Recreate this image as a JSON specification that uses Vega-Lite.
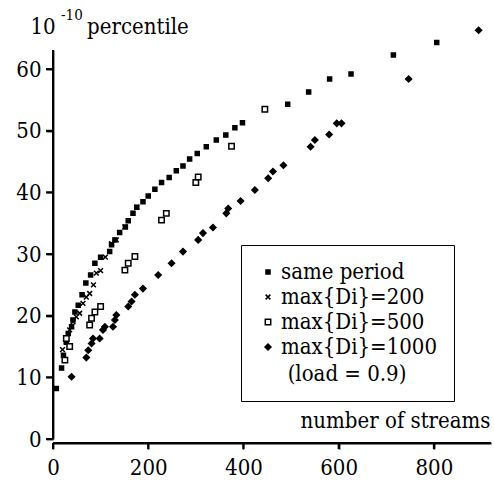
{
  "$schema": "https://vega.github.io/schema/vega-lite/v6.json",
  "autosize": {"type": "none"},
  "padding": {"left": 53, "top": 50, "right": 3, "bottom": 44},
  "width": 438,
  "height": 389,
  "background": "white",
  "config": {
    "view": {"stroke": null},
    "font": "DejaVu Serif Condensed",
    "legend": {"labelFont": "DejaVu Serif Condensed", "titleFont": "DejaVu Serif Condensed"}
  },
  "title": {"text": "-10", "fontSize": 15, "font": "DejaVu Serif Condensed", "fontWeight": "normal", "anchor": "start", "frame": "group", "color": "black", "offset": 0, "dx": 8, "dy": 8},
  "data": {"values": [
    {"s": "same period", "x": 7, "y": 8.2},
    {"s": "same period", "x": 18, "y": 11.5},
    {"s": "same period", "x": 22, "y": 13.6},
    {"s": "same period", "x": 28, "y": 15.7},
    {"s": "same period", "x": 32, "y": 17.1},
    {"s": "same period", "x": 39, "y": 18.2},
    {"s": "same period", "x": 42, "y": 19.3},
    {"s": "same period", "x": 46, "y": 20.6},
    {"s": "same period", "x": 53, "y": 21.7},
    {"s": "same period", "x": 61, "y": 23.4},
    {"s": "same period", "x": 69, "y": 25.3},
    {"s": "same period", "x": 79, "y": 26.6},
    {"s": "same period", "x": 88, "y": 28.5},
    {"s": "same period", "x": 100, "y": 29.5},
    {"s": "same period", "x": 119, "y": 30.4},
    {"s": "same period", "x": 123, "y": 31.5},
    {"s": "same period", "x": 130, "y": 32.3},
    {"s": "same period", "x": 140, "y": 33.5},
    {"s": "same period", "x": 152, "y": 34.4},
    {"s": "same period", "x": 158, "y": 35.4},
    {"s": "same period", "x": 168, "y": 36.6},
    {"s": "same period", "x": 176, "y": 37.6},
    {"s": "same period", "x": 189, "y": 38.5},
    {"s": "same period", "x": 200, "y": 39.4},
    {"s": "same period", "x": 214, "y": 40.5},
    {"s": "same period", "x": 228, "y": 41.6},
    {"s": "same period", "x": 244, "y": 42.4},
    {"s": "same period", "x": 259, "y": 43.5},
    {"s": "same period", "x": 273, "y": 44.3},
    {"s": "same period", "x": 287, "y": 45.4},
    {"s": "same period", "x": 303, "y": 46.3},
    {"s": "same period", "x": 322, "y": 47.4},
    {"s": "same period", "x": 343, "y": 48.5},
    {"s": "same period", "x": 363, "y": 49.3},
    {"s": "same period", "x": 382, "y": 50.5},
    {"s": "same period", "x": 398, "y": 51.3},
    {"s": "same period", "x": 445, "y": 53.5},
    {"s": "same period", "x": 493, "y": 54.3},
    {"s": "same period", "x": 537, "y": 56.3},
    {"s": "same period", "x": 581, "y": 58.4},
    {"s": "same period", "x": 626, "y": 59.2},
    {"s": "same period", "x": 715, "y": 62.3},
    {"s": "same period", "x": 806, "y": 64.3},
    {"s": "max{Di}=200", "x": 20, "y": 14.5},
    {"s": "max{Di}=200", "x": 28, "y": 15.8},
    {"s": "max{Di}=200", "x": 35, "y": 17.7},
    {"s": "max{Di}=200", "x": 42, "y": 19},
    {"s": "max{Di}=200", "x": 49, "y": 19.8},
    {"s": "max{Di}=200", "x": 56, "y": 20.4},
    {"s": "max{Di}=200", "x": 63, "y": 22},
    {"s": "max{Di}=200", "x": 70, "y": 23},
    {"s": "max{Di}=200", "x": 77, "y": 23.6},
    {"s": "max{Di}=200", "x": 85, "y": 25},
    {"s": "max{Di}=200", "x": 91, "y": 26.9},
    {"s": "max{Di}=200", "x": 100, "y": 27.3},
    {"s": "max{Di}=200", "x": 110, "y": 29.5},
    {"s": "max{Di}=200", "x": 123, "y": 31.7},
    {"s": "max{Di}=200", "x": 133, "y": 32.3},
    {"s": "max{Di}=200", "x": 151, "y": 34.4},
    {"s": "max{Di}=200", "x": 176, "y": 37.6},
    {"s": "max{Di}=500", "x": 25, "y": 12.8},
    {"s": "max{Di}=500", "x": 28, "y": 16.3},
    {"s": "max{Di}=500", "x": 35, "y": 15},
    {"s": "max{Di}=500", "x": 77, "y": 18.5},
    {"s": "max{Di}=500", "x": 81, "y": 19.6},
    {"s": "max{Di}=500", "x": 88, "y": 20.6},
    {"s": "max{Di}=500", "x": 100, "y": 21.5},
    {"s": "max{Di}=500", "x": 151, "y": 27.4},
    {"s": "max{Di}=500", "x": 158, "y": 28.5},
    {"s": "max{Di}=500", "x": 172, "y": 29.6},
    {"s": "max{Di}=500", "x": 228, "y": 35.5},
    {"s": "max{Di}=500", "x": 238, "y": 36.6},
    {"s": "max{Di}=500", "x": 300, "y": 41.6},
    {"s": "max{Di}=500", "x": 305, "y": 42.5},
    {"s": "max{Di}=500", "x": 375, "y": 47.5},
    {"s": "max{Di}=500", "x": 445, "y": 53.5},
    {"s": "max{Di}=1000", "x": 39, "y": 10.1},
    {"s": "max{Di}=1000", "x": 70, "y": 13.2},
    {"s": "max{Di}=1000", "x": 74, "y": 14.4},
    {"s": "max{Di}=1000", "x": 81, "y": 15.5},
    {"s": "max{Di}=1000", "x": 84, "y": 16.3},
    {"s": "max{Di}=1000", "x": 98, "y": 16.3},
    {"s": "max{Di}=1000", "x": 105, "y": 17.7},
    {"s": "max{Di}=1000", "x": 109, "y": 18.2},
    {"s": "max{Di}=1000", "x": 126, "y": 18.2},
    {"s": "max{Di}=1000", "x": 130, "y": 19.3},
    {"s": "max{Di}=1000", "x": 133, "y": 20.1},
    {"s": "max{Di}=1000", "x": 158, "y": 21.5},
    {"s": "max{Di}=1000", "x": 165, "y": 22.3},
    {"s": "max{Di}=1000", "x": 172, "y": 23.4},
    {"s": "max{Di}=1000", "x": 189, "y": 24.4},
    {"s": "max{Di}=1000", "x": 221, "y": 26.6},
    {"s": "max{Di}=1000", "x": 249, "y": 28.5},
    {"s": "max{Di}=1000", "x": 273, "y": 30.4},
    {"s": "max{Di}=1000", "x": 305, "y": 32.3},
    {"s": "max{Di}=1000", "x": 315, "y": 33.4},
    {"s": "max{Di}=1000", "x": 336, "y": 34.3},
    {"s": "max{Di}=1000", "x": 364, "y": 36.6},
    {"s": "max{Di}=1000", "x": 368, "y": 37.4},
    {"s": "max{Di}=1000", "x": 394, "y": 38.6},
    {"s": "max{Di}=1000", "x": 424, "y": 40.4},
    {"s": "max{Di}=1000", "x": 452, "y": 42.3},
    {"s": "max{Di}=1000", "x": 462, "y": 43.4},
    {"s": "max{Di}=1000", "x": 484, "y": 44.4},
    {"s": "max{Di}=1000", "x": 541, "y": 47.4},
    {"s": "max{Di}=1000", "x": 550, "y": 48.5},
    {"s": "max{Di}=1000", "x": 580, "y": 49.4},
    {"s": "max{Di}=1000", "x": 596, "y": 51.2},
    {"s": "max{Di}=1000", "x": 606, "y": 51.2},
    {"s": "max{Di}=1000", "x": 747, "y": 58.4},
    {"s": "max{Di}=1000", "x": 894, "y": 66.3}
  ]},
  "layer": [
    {
      "data": {"values": [{"x": 0, "y": 0}]},
      "mark": {"type": "point", "shape": "M0,0L0,-2", "size": 151321, "filled": false, "stroke": "black", "strokeWidth": 2, "opacity": 1, "clip": false},
      "encoding": {"x": {"field": "x", "type": "quantitative"}, "y": {"field": "y", "type": "quantitative"}}
    },
    {
      "data": {"values": [{"x": 0, "y": 0}]},
      "mark": {"type": "point", "shape": "M0,0L2,0", "size": 191844, "filled": false, "stroke": "black", "strokeWidth": 2, "opacity": 1, "yOffset": 4, "clip": false},
      "encoding": {"x": {"field": "x", "type": "quantitative"}, "y": {"field": "y", "type": "quantitative"}}
    },
    {
      "data": {"values": [{"x": 0, "y": 0}, {"x": 200, "y": 0}, {"x": 400, "y": 0}, {"x": 600, "y": 0}, {"x": 800, "y": 0}]},
      "mark": {"type": "point", "shape": "M0,0L0,2", "size": 36, "filled": false, "stroke": "black", "strokeWidth": 2, "opacity": 1, "yOffset": 4, "clip": false},
      "encoding": {"x": {"field": "x", "type": "quantitative"}, "y": {"field": "y", "type": "quantitative"}}
    },
    {
      "data": {"values": [{"x": 0, "y": 0}, {"x": 0, "y": 10}, {"x": 0, "y": 20}, {"x": 0, "y": 30}, {"x": 0, "y": 40}, {"x": 0, "y": 50}, {"x": 0, "y": 60}]},
      "mark": {"type": "point", "shape": "M0,0L-2,0", "size": 49, "filled": false, "stroke": "black", "strokeWidth": 2, "opacity": 1, "clip": false},
      "encoding": {"x": {"field": "x", "type": "quantitative"}, "y": {"field": "y", "type": "quantitative"}}
    },
    {
      "mark": {"type": "point", "stroke": "black", "strokeWidth": 1.5, "opacity": 1, "fillOpacity": 1, "clip": false},
      "encoding": {
        "x": {"field": "x", "type": "quantitative", "scale": {"domain": [0, 920], "nice": false},
          "axis": {"values": [0, 200, 400, 600, 800], "grid": false, "domain": true, "ticks": true, "domainColor": "black", "tickColor": "black", "domainWidth": 1.8, "tickWidth": 1.8, "labelColor": "black", "titleColor": "black", "labelFont": "DejaVu Serif Condensed", "titleFont": "DejaVu Serif Condensed", "labelFontSize": 22, "titleFontSize": 22, "titleFontWeight": "normal", "offset": 4, "tickSize": 6, "labelPadding": 8, "title": "number of streams", "titleX": 437, "titleY": -16, "titleAlign": "right", "titleBaseline": "alphabetic", "labelFlush": false}},
        "y": {"field": "y", "type": "quantitative", "scale": {"domain": [0, 63.1], "nice": false},
          "axis": {"values": [0, 10, 20, 30, 40, 50, 60], "grid": false, "domain": true, "ticks": true, "domainColor": "black", "tickColor": "black", "domainWidth": 1.8, "tickWidth": 1.8, "labelColor": "black", "titleColor": "black", "labelFont": "DejaVu Serif Condensed", "titleFont": "DejaVu Serif Condensed", "labelFontSize": 22, "titleFontSize": 22, "titleFontWeight": "normal", "tickSize": 7, "labelPadding": 5, "title": "10\u00a0\u00a0\u00a0\u00a0\u00a0percentile", "titleAngle": 0, "titleX": -23, "titleY": -17, "titleAlign": "left", "titleBaseline": "alphabetic"}},
        "shape": {"field": "s", "type": "nominal",
          "scale": {"domain": ["same period", "max{Di}=200", "max{Di}=500", "max{Di}=1000"], "range": ["square", "M-1,-1L1,1M-1,1L1,-1", "square", "diamond"]},
          "legend": {"orient": "none", "legendX": 188, "legendY": 195, "strokeColor": "black", "padding": 16, "symbolOffset": 0, "labelOffset": 2, "labelFontSize": 22, "labelColor": "black", "rowPadding": 3, "title": "(load = 0.9)", "titleOrient": "bottom", "titleAnchor": "middle", "titleFontSize": 22, "titleFontWeight": "normal", "titleColor": "black", "titlePadding": 6, "symbolStrokeColor": "black"}},
        "fill": {"field": "s", "type": "nominal",
          "scale": {"domain": ["same period", "max{Di}=200", "max{Di}=500", "max{Di}=1000"], "range": ["black", "black", "white", "black"]}},
        "size": {"field": "s", "type": "nominal",
          "scale": {"domain": ["same period", "max{Di}=200", "max{Di}=500", "max{Di}=1000"], "range": [16, 36, 49, 50]}}
      }
    }
  ]
}
